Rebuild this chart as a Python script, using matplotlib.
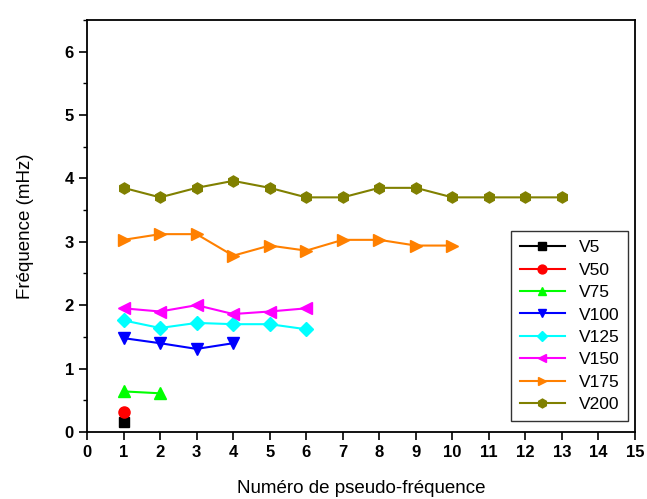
import matplotlib.pyplot as plt
from matplotlib.ticker import MultipleLocator

plt.rcParams["font.family"] = ["Liberation Sans", "DejaVu Sans"]

# pseudo-frequency index vs frequency (mHz) for each series
x_v5 = [1]
y_v5 = [0.16]
x_v50 = [1]
y_v50 = [0.32]
x_v75 = [1, 2]
y_v75 = [0.64, 0.61]
x_v100 = [1, 2, 3, 4]
y_v100 = [1.48, 1.40, 1.31, 1.40]
x_v125 = [1, 2, 3, 4, 5, 6]
y_v125 = [1.76, 1.64, 1.72, 1.70, 1.70, 1.62]
x_v150 = [1, 2, 3, 4, 5, 6]
y_v150 = [1.95, 1.90, 2.00, 1.86, 1.90, 1.95]
x_v175 = [1, 2, 3, 4, 5, 6, 7, 8, 9, 10]
y_v175 = [3.03, 3.12, 3.12, 2.78, 2.94, 2.86, 3.03, 3.03, 2.94, 2.94]
x_v200 = [1, 2, 3, 4, 5, 6, 7, 8, 9, 10, 11, 12, 13]
y_v200 = [3.85, 3.70, 3.85, 3.96, 3.85, 3.70, 3.70, 3.85, 3.85, 3.70, 3.70, 3.70, 3.70]

series = [
    ("V5", x_v5, y_v5, "black", "s"),
    ("V50", x_v50, y_v50, "#ff0000", "o"),
    ("V75", x_v75, y_v75, "#00ff00", "^"),
    ("V100", x_v100, y_v100, "#0000ff", "v"),
    ("V125", x_v125, y_v125, "#00ffff", "D"),
    ("V150", x_v150, y_v150, "#ff00ff", "<"),
    ("V175", x_v175, y_v175, "#ff8000", ">"),
    ("V200", x_v200, y_v200, "#808000", "h"),
]

fig = plt.figure(figsize=(6.47, 4.99), dpi=100)
ax = fig.add_axes([0.1345, 0.1343, 0.847, 0.826])

for label, xs, ys, color, marker in series:
    ms = 7 if marker in ("D", "s") else 8
    ax.plot(xs, ys, color=color, marker=marker, markersize=ms,
            linewidth=1.5, label=label)

ax.set_xlim(0, 15)
ax.set_ylim(0, 6.5)
ax.xaxis.set_major_locator(MultipleLocator(1))
ax.yaxis.set_major_locator(MultipleLocator(1))
ax.yaxis.set_minor_locator(MultipleLocator(0.5))
ax.tick_params(axis="both", which="major", direction="out", length=6, width=1.2,
               labelsize=12)
ax.tick_params(axis="y", which="minor", direction="out", length=3, width=1.0)
for lbl in ax.get_xticklabels() + ax.get_yticklabels():
    lbl.set_fontweight("bold")
for spine in ax.spines.values():
    spine.set_linewidth(1.3)

ax.set_xlabel("Numéro de pseudo-fréquence", fontsize=13.5, labelpad=14)
ax.set_ylabel("Fréquence (mHz)", fontsize=13.5, labelpad=22)

leg = ax.legend(loc="lower right", fontsize=12.5, frameon=True, fancybox=False,
                edgecolor="black", handlelength=2.6, borderpad=0.5,
                labelspacing=0.42, markerscale=0.8, borderaxespad=0.3,
                bbox_to_anchor=(0.997, 0.014))
leg.get_frame().set_linewidth(1.0)

fig.savefig("out.png", dpi=100)
